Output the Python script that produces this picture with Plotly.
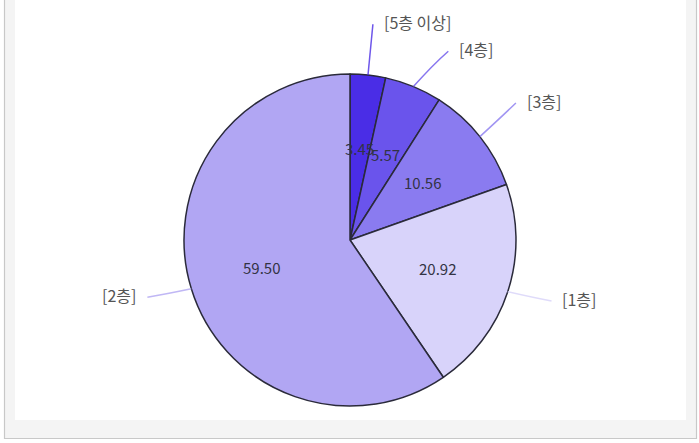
import math
import plotly.graph_objects as go

# ---- data ----
labels = ["[5층 이상]", "[4층]", "[3층]", "[1층]", "[2층]"]
values = [3.45, 5.57, 10.56, 20.92, 59.50]
colors = ["#4a2de6", "#6a54ec", "#8a7bf0", "#d8d3fa", "#b1a6f3"]

W, H = 699, 443
CX, CY, R = 350, 240, 166
CYL = CY - 5      # center of label ring
RL = 212          # radius of label line end
RV = 0.555 * R    # radius of value text
GAP = 27          # min vertical gap between labels on a side

fig = go.Figure()

fig.add_trace(go.Pie(
    labels=labels, values=values, sort=False, direction="clockwise", rotation=0,
    marker=dict(colors=colors, line=dict(color="#2a2a3a", width=1.5)),
    textinfo="none", hoverinfo="skip", showlegend=False,
    domain=dict(x=[(CX - R) / W, (CX + R) / W], y=[1 - (CY + R) / H, 1 - (CY - R) / H]),
))

# background frame
shapes = [
    dict(type="rect", xref="x", yref="y", x0=4.5, x1=696.5, y0=-5, y1=438.5,
         fillcolor="#f4f4f4", line=dict(color="#c8c8c8", width=1.2), layer="below"),
    dict(type="rect", xref="x", yref="y", x0=15, x1=686, y0=-5, y1=420,
         fillcolor="#ffffff", line=dict(width=0), layer="below"),
]
annotations = []

total = sum(values)
cum = 0.0
pts = []
for lab, v, c in zip(labels, values, colors):
    mid = (cum + v / 2) / total * 2 * math.pi
    cum += v
    s, co = math.sin(mid), math.cos(mid)
    annotations.append(dict(xref="x", yref="y", x=CX + RV * s, y=CY - RV * co, text=f"{v:.2f}",
                            showarrow=False, font=dict(size=15, color="#333344", family="Noto Sans CJK KR")))
    pts.append(dict(lab=lab, c=c, s=s, co=co, ex=CX + R * s, ey=CY - R * co,
                    lx=CX + RL * s, ly=CYL - RL * co, right=s >= 0))

# spread labels per side
for side in (True, False):
    grp = sorted([p for p in pts if p["right"] == side], key=lambda p: p["ly"])
    prev = None
    for p in grp:
        if prev is not None and p["ly"] < prev + GAP:
            p["ly"] = prev + GAP
            dy = p["ly"] - CYL
            dx = math.sqrt(max(RL * RL - dy * dy, 0))
            p["lx"] = CX + 0.93 * (dx if side else -dx)
        prev = p["ly"]

for p in pts:
    mx, my = (p["ex"] + p["lx"]) / 2, (p["ey"] + p["ly"]) / 2
    qx, qy = mx + 4 * p["s"], my - 4 * p["co"]
    path = f"M {p['ex']:.1f},{p['ey']:.1f} Q {qx:.1f},{qy:.1f} {p['lx']:.1f},{p['ly']:.1f}"
    shapes.append(dict(type="path", xref="x", yref="y", path=path, opacity=0.8,
                       line=dict(color=p["c"], width=1.5), layer="above"))
    off = 9 if p["right"] else -9
    annotations.append(dict(xref="x", yref="y", x=p["lx"] + off, y=p["ly"] - 2, text=p["lab"],
                            showarrow=False, xanchor="left" if p["right"] else "right", yanchor="middle",
                            font=dict(size=16, color="#555555", family="Noto Sans CJK KR")))

fig.update_layout(
    width=W, height=H, margin=dict(l=0, r=0, t=0, b=0),
    paper_bgcolor="#ffffff", plot_bgcolor="rgba(0,0,0,0)",
    xaxis=dict(range=[0, W], visible=False, fixedrange=True),
    yaxis=dict(range=[H, 0], visible=False, fixedrange=True),
    shapes=shapes, annotations=annotations,
)

fig.write_html("out.html", config={"displayModeBar": False},
               post_script="document.body.style.margin='0';")
